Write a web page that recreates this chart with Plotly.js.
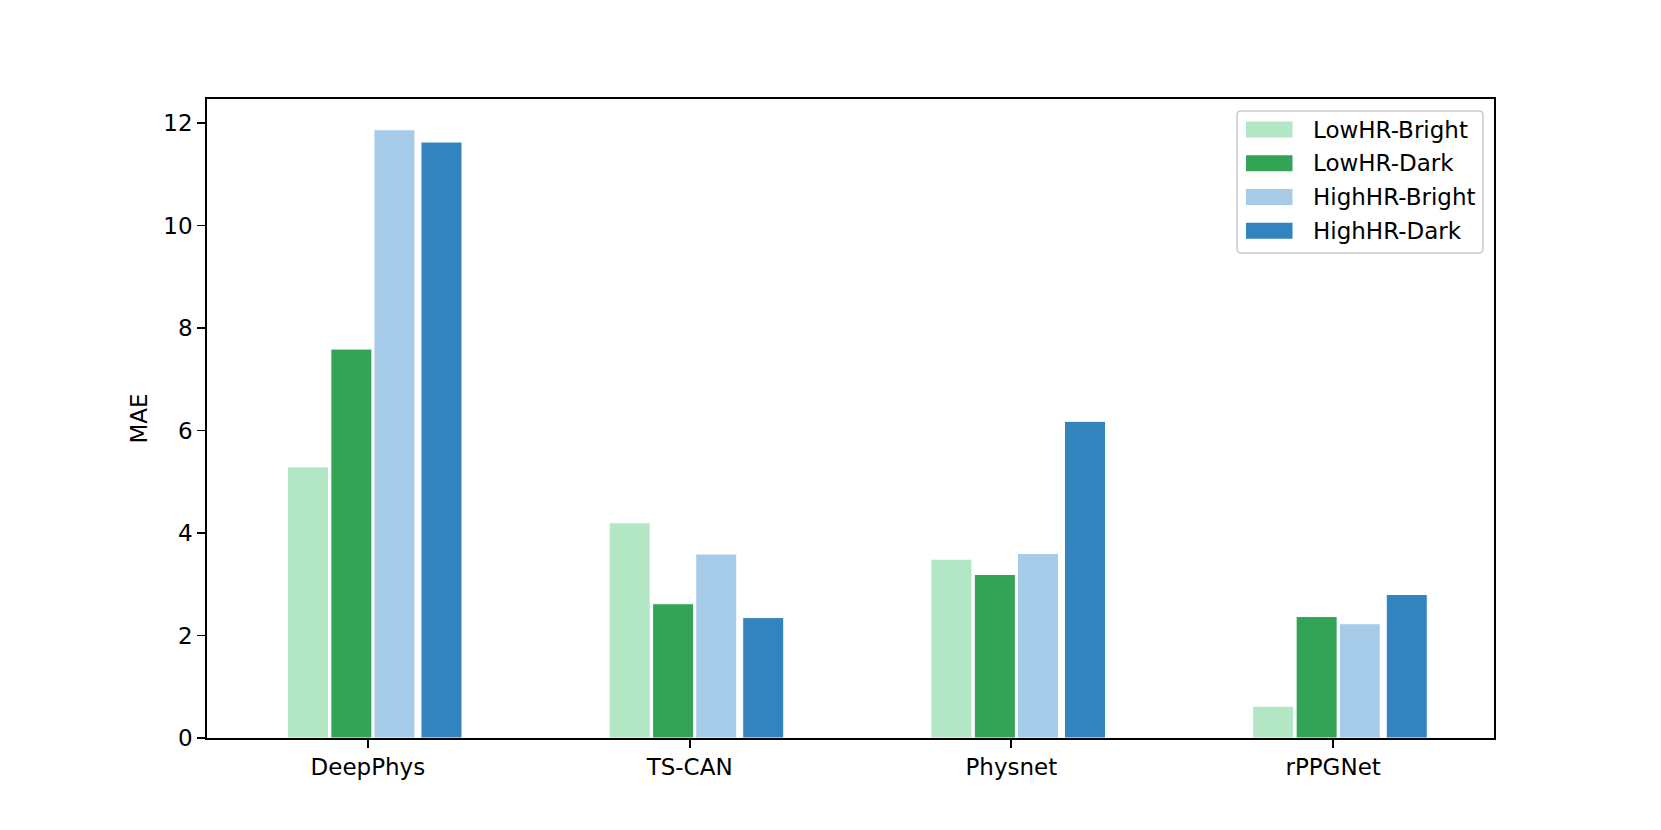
<!DOCTYPE html>
<html>
<head>
<meta charset="utf-8">
<script src="https://cdn.plot.ly/plotly-3.0.1.min.js"></script>
<style>
  html, body { margin: 0; padding: 0; background: #ffffff; }
  #chart { width: 1661px; height: 830px; }
</style>
</head>
<body>
<div id="chart"></div>
<script>
// ---- data ----
const methods = ["DeepPhys", "TS-CAN", "Physnet", "rPPGNet"];
const seriesNames = ["LowHR-Bright", "LowHR-Dark", "HighHR-Bright", "HighHR-Dark"];
const lowHRBright  = [5.29, 4.20, 3.49, 0.62];
const lowHRDark    = [7.59, 2.62, 3.19, 2.37];
const highHRBright = [11.87, 3.59, 3.60, 2.23];
const highHRDark   = [11.63, 2.35, 6.18, 2.80];
const yTicks = [0, 2, 4, 6, 8, 10, 12];

// ---- style ----
const colors = ["#b3e6c4", "#33a456", "#a6cbe8", "#3383be"];
const offsets = [-0.250, -0.115, 0.019, 0.165];
const barWidth = 0.1275;
const FONT = "DejaVu Sans, Liberation Sans, sans-serif";
const FS = 23;

const W = 1661, H = 830;
const M = { l: 207, r: 167, t: 99, b: 92 };
const pw = W - M.l - M.r, ph = H - M.t - M.b;
const px2x = p => (p - M.l) / pw;
const py2y = p => (H - M.b - p) / ph;

const allSeries = [lowHRBright, lowHRDark, highHRBright, highHRDark];
const traces = allSeries.map((vals, i) => ({
  type: "bar",
  name: seriesNames[i],
  x: methods,
  y: vals,
  offset: offsets[i],
  width: barWidth,
  marker: { color: colors[i], line: { color: "#ffffff", width: 1 } },
  showlegend: false,
  hoverinfo: "x+y+name"
}));

// ---- manual legend (matplotlib style) ----
const shapes = [];
const annotations = [];
const bx0 = px2x(1237), bx1 = px2x(1483), by0 = py2y(111), by1 = py2y(253);
const rx = 4 / pw, ry = 4 / ph;
shapes.push({
  type: "path", xref: "paper", yref: "paper",
  path: `M ${bx0 + rx} ${by0} L ${bx1 - rx} ${by0} Q ${bx1} ${by0} ${bx1} ${by0 - ry} ` +
        `L ${bx1} ${by1 + ry} Q ${bx1} ${by1} ${bx1 - rx} ${by1} ` +
        `L ${bx0 + rx} ${by1} Q ${bx0} ${by1} ${bx0} ${by1 + ry} ` +
        `L ${bx0} ${by0 - ry} Q ${bx0} ${by0} ${bx0 + rx} ${by0} Z`,
  fillcolor: "rgba(255,255,255,0.8)",
  line: { color: "#cccccc", width: 1.5 },
  layer: "above"
});
const rowCenters = [129.5, 163.2, 197.0, 230.8];
seriesNames.forEach((name, i) => {
  const c = rowCenters[i];
  shapes.push({
    type: "rect", xref: "paper", yref: "paper",
    x0: px2x(1246), x1: px2x(1292.5), y0: py2y(c - 8), y1: py2y(c + 8),
    fillcolor: colors[i], line: { width: 0 }, layer: "above"
  });
  annotations.push({
    xref: "paper", yref: "paper", x: px2x(1311), y: py2y(c),
    xanchor: "left", yanchor: "middle", showarrow: false,
    text: name, font: { family: FONT, size: FS, color: "#000000" }
  });
});

const layout = {
  width: W, height: H,
  margin: M,
  paper_bgcolor: "#ffffff",
  plot_bgcolor: "#ffffff",
  font: { family: FONT, size: FS, color: "#000000" },
  barmode: "overlay",
  showlegend: false,
  xaxis: {
    type: "category",
    range: [-0.5, 3.5],
    showgrid: false, zeroline: false,
    showline: true, linecolor: "#000000", linewidth: 1.8, mirror: true,
    ticks: "outside", ticklen: 8, tickwidth: 1.8, tickcolor: "#000000",
    tickfont: { family: FONT, size: FS, color: "#000000" },
    fixedrange: true
  },
  yaxis: {
    range: [0, 12.47],
    tickvals: yTicks,
    ticktext: yTicks.map(String),
    showgrid: false, zeroline: false,
    showline: true, linecolor: "#000000", linewidth: 1.8, mirror: true,
    ticks: "outside", ticklen: 8, tickwidth: 1.8, tickcolor: "#000000",
    tickfont: { family: FONT, size: FS, color: "#000000" },
    title: { text: "MAE", font: { family: FONT, size: FS, color: "#000000" }, standoff: 9 },
    fixedrange: true
  },
  shapes: shapes,
  annotations: annotations
};

Plotly.newPlot("chart", traces, layout, { displayModeBar: false, staticPlot: true });
</script>
</body>
</html>
